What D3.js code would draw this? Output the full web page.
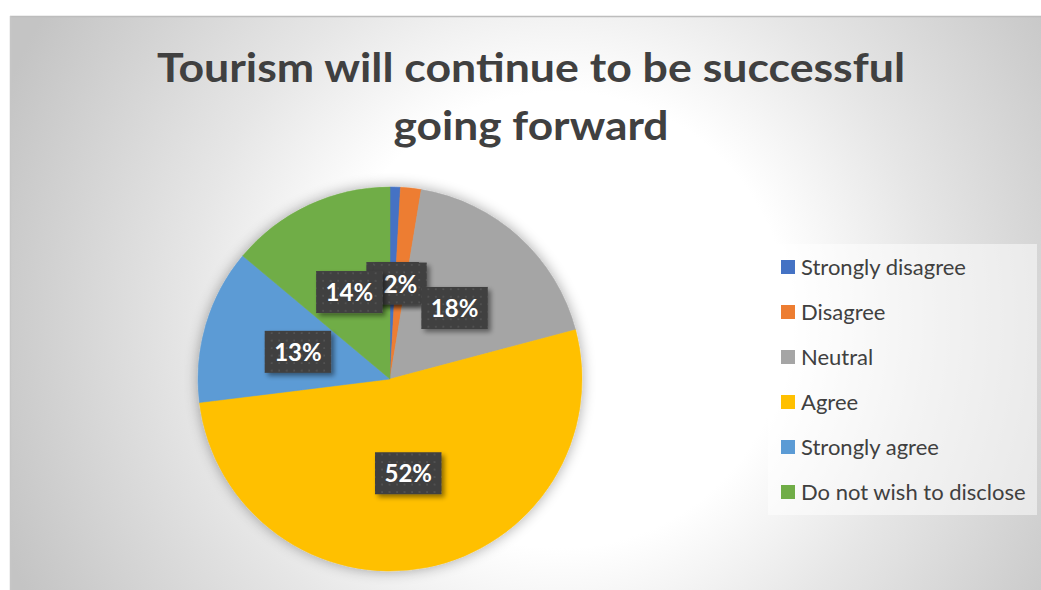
<!DOCTYPE html>
<html>
<head>
<meta charset="utf-8">
<script src="https://cdn.jsdelivr.net/npm/d3@7"></script>
<style>
  html, body { margin: 0; padding: 0; background: #ffffff; }
  svg { display: block; }
</style>
</head>
<body>
<svg id="chart" width="1041" height="590"></svg>
<script>
// Survey responses
const categories = ["Strongly disagree", "Disagree", "Neutral", "Agree", "Strongly agree", "Do not wish to disclose"];
const counts = [1, 2, 21, 60, 15, 16];
const colors = ["#4472C4", "#ED7D31", "#A5A5A5", "#FFC000", "#5B9BD5", "#70AD47"];
const titleLines = ["Tourism will continue to be successful", "going forward"];

const W = 1041, H = 590;
const svg = d3.select("#chart");
const defs = svg.append("defs");
const font = "Lato, 'Open Sans', sans-serif";

// Background: radial wash, white in the middle, grey toward the corners
const bg = defs.append("radialGradient").attr("id", "bgGrad")
  .attr("gradientUnits", "userSpaceOnUse")
  .attr("cx", 560).attr("cy", 320).attr("r", 600);
bg.append("stop").attr("offset", 0).attr("stop-color", "#ffffff");
bg.append("stop").attr("offset", 0.38).attr("stop-color", "#ffffff");
bg.append("stop").attr("offset", 0.62).attr("stop-color", "#e6e6e6");
bg.append("stop").attr("offset", 1).attr("stop-color", "#c4c4c4");

// Soft halo behind the pie
const halo = defs.append("filter").attr("id", "halo")
  .attr("x", "-20%").attr("y", "-20%").attr("width", "140%").attr("height", "140%");
halo.append("feGaussianBlur").attr("in", "SourceAlpha").attr("stdDeviation", 7).attr("result", "b");
halo.append("feComponentTransfer").attr("in", "b").attr("result", "s")
  .append("feFuncA").attr("type", "linear").attr("slope", 0.35);
const hm = halo.append("feMerge");
hm.append("feMergeNode").attr("in", "s");
hm.append("feMergeNode").attr("in", "SourceGraphic");

// Drop shadow for the data label boxes
const boxShadow = defs.append("filter").attr("id", "boxShadow")
  .attr("x", "-30%").attr("y", "-30%").attr("width", "160%").attr("height", "160%");
boxShadow.append("feGaussianBlur").attr("in", "SourceAlpha").attr("stdDeviation", 2.5).attr("result", "b");
boxShadow.append("feOffset").attr("in", "b").attr("dx", 3).attr("dy", 3).attr("result", "o");
boxShadow.append("feComponentTransfer").attr("in", "o").attr("result", "s")
  .append("feFuncA").attr("type", "linear").attr("slope", 0.45);
const bm = boxShadow.append("feMerge");
bm.append("feMergeNode").attr("in", "s");
bm.append("feMergeNode").attr("in", "SourceGraphic");

// Dotted texture for the label boxes
const dots = defs.append("pattern").attr("id", "dots")
  .attr("patternUnits", "userSpaceOnUse").attr("width", 7.5).attr("height", 7.5);
dots.append("rect").attr("width", 7.5).attr("height", 7.5).attr("fill", "#404040");
dots.append("rect").attr("x", 3).attr("y", 3).attr("width", 1.6).attr("height", 1.6).attr("fill", "#575757");

// Chart area
const area = { x: 10, y: 16, w: W - 10, h: H - 16 };
svg.append("rect").attr("x", area.x).attr("y", area.y).attr("width", area.w).attr("height", area.h)
  .attr("fill", "url(#bgGrad)");
svg.append("line").attr("x1", area.x).attr("x2", W).attr("y1", area.y + 0.5).attr("y2", area.y + 0.5)
  .attr("stroke", "#bdbdbd").attr("stroke-width", 1.5);
svg.append("line").attr("x1", area.x + 0.5).attr("x2", area.x + 0.5).attr("y1", area.y).attr("y2", H)
  .attr("stroke", "#c6c6c6").attr("stroke-width", 1.5);

// Title
const titleCenter = 531;
const titleBase = [82, 140];
const titleWidth = [748, 275];
titleLines.forEach((t, i) => {
  const txt = svg.append("text")
    .attr("x", titleCenter).attr("y", titleBase[i])
    .attr("text-anchor", "middle")
    .attr("font-family", font).attr("font-weight", 700)
    .attr("font-size", 40).attr("fill", "#404040")
    .text(t);
  const w = txt.node().getComputedTextLength();
  if (Math.abs(w - titleWidth[i]) > 4) {
    txt.attr("textLength", titleWidth[i]).attr("lengthAdjust", "spacingAndGlyphs");
  }
});

// Pie
const cx = 390, cy = 379, R = 192;
const total = d3.sum(counts);
const data = categories.map((c, i) => ({ category: c, value: counts[i], color: colors[i] }));
const pie = d3.pie().value(d => d.value).sort(null);
const arcs = pie(data);
const arc = d3.arc().innerRadius(0).outerRadius(R);
const labelArc = d3.arc().innerRadius(R * 0.5).outerRadius(R * 0.5);

const pieG = svg.append("g").attr("transform", `translate(${cx},${cy})`);
pieG.append("g").attr("filter", "url(#halo)")
  .selectAll("path").data(arcs).join("path")
  .attr("d", arc)
  .attr("fill", d => d.data.color)
  .attr("stroke", d => d.data.color).attr("stroke-width", 0.5);

// Data labels: percentage in a dark textured box (drawn in slice order,
// so the tiny first slice's box sits beneath its neighbour's)
const pct = d3.format(".0%");
const labels = pieG.append("g").selectAll("g").data(arcs).join("g")
  .attr("transform", d => `translate(${labelArc.centroid(d)})`);
labels.each(function (d) {
  const g = d3.select(this);
  const rect = g.append("rect").attr("fill", "url(#dots)").attr("filter", "url(#boxShadow)");
  const txt = g.append("text")
    .attr("text-anchor", "middle").attr("y", 9)
    .attr("font-family", font).attr("font-weight", 700).attr("font-size", 24)
    .attr("fill", "#ffffff")
    .text(pct(d.data.value / total));
  const w = txt.node().getComputedTextLength();
  const bw = w + 19, bh = 42;
  rect.attr("x", -bw / 2).attr("y", -bh / 2).attr("width", bw).attr("height", bh);
});

// Legend
const legend = { x: 768, y: 244, w: 269, h: 271, rowTop: 267, rowStep: 45 };
svg.append("rect").attr("x", legend.x).attr("y", legend.y).attr("width", legend.w).attr("height", legend.h)
  .attr("fill", "#ffffff").attr("fill-opacity", 0.5);
const rows = svg.append("g").selectAll("g").data(data).join("g")
  .attr("transform", (d, i) => `translate(781,${legend.rowTop + i * legend.rowStep})`);
rows.append("rect").attr("x", 0).attr("y", -7).attr("width", 14).attr("height", 14)
  .attr("fill", d => d.color);
rows.append("text").attr("x", 20).attr("y", 7.5)
  .attr("font-family", font).attr("font-size", 22).attr("fill", "#404040")
  .text(d => d.category);
</script>
</body>
</html>
